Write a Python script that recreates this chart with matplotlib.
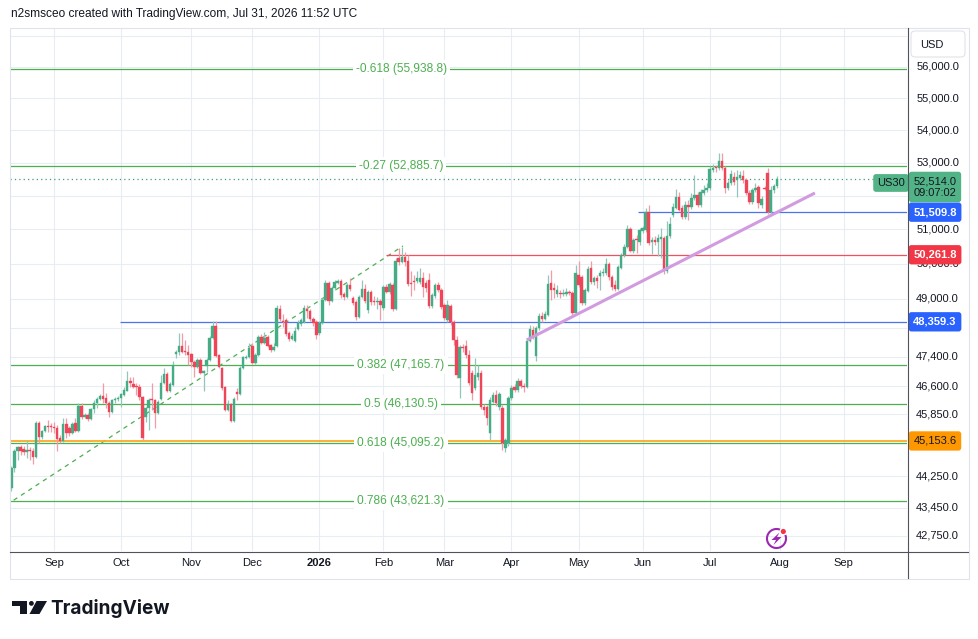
import numpy as np
import pandas as pd
import matplotlib
matplotlib.use("Agg")
import matplotlib.pyplot as plt
from matplotlib.transforms import blended_transform_factory, IdentityTransform
from matplotlib.patches import Rectangle, Circle, Polygon, FancyBboxPatch, Arc
from matplotlib.lines import Line2D

# ---------------- data ----------------
opens = [43950,44455,44895,45000,44945,44865,44920,44895,44740,45625,45255,45415,45545,45520,45515,45490,45230,45155,45595,45490,
         45360,45625,45415,46070,45780,45835,45730,45995,46150,46260,46340,46285,46150,45915,46230,46260,46285,46365,46470,46740,
         46660,46580,46575,46310,45780,46020,46230,46220,45885,46260,46685,46930,46470,46630,47470,47525,47690,47555,47525,47470,
         47255,47115,47310,46955,47145,47310,47910,48245,47445,47090,46580,45965,46125,45675,46445,46390,47090,47365,47390,47690,
         47225,47445,47940,47775,47940,47720,47580,47690,48715,48380,48410,48050,47885,47830,48160,48300,48355,48715,48660,48440,
         48355,48050,48325,48970,49450,48940,49310,49450,49510,49140,49055,49395,49025,48915,48495,49055,49280,48690,49195,48915,
         48905,48940,48745,49340,49195,49395,48715,50170,50055,50200,50080,49450,49510,49510,49480,49595,49450,49535,48800,49085,
         49395,49255,48830,48410,48800,48355,47855,46820,47665,47690,47445,46955,46550,46845,46955,46045,46045,45360,46180,46365,
         46045,46020,44970,45100,46285,46580,46500,46740,46605,46580,47830,48130,47420,48185,48520,48440,48550,49450,49310,49140,
         49140,49130,49140,49195,49170,48605,49680,49625,48885,49225,49880,49480,49595,49650,49735,49735,49995,49620,49395,49280,
         49880,50255,50485,51015,50370,50690,50630,50955,50985,51515,50630,50690,50630,50720,50750,49795,50810,51425,51635,51960,
         51635,51365,51720,51665,51930,52020,51720,52080,52170,52230,52775,52835,52830,53050,52835,52230,52380,52565,52475,52535,
         52595,52475,52080,51810,52170,52260,51720,52230,52685,51515,52170,52290]
highs = [44510,44945,45025,45050,45025,45180,45000,44970,45675,45675,45440,45570,45700,45625,45650,45570,45310,45755,45755,45545,
         45650,45755,46150,46150,45885,45885,46020,46230,46310,46390,46685,46420,46205,46260,46310,46340,46420,46580,47010,46845,
         46845,46685,46660,46340,46045,46285,46685,46260,46230,46900,47090,46980,46710,47280,47580,48050,48050,47855,47720,47500,
         47310,47365,47365,47035,47365,47965,48380,48380,47470,47115,46605,46230,46150,46310,46550,47145,47420,47445,47775,47775,
         47500,47995,48020,48075,47995,47745,47775,48830,48830,48575,48465,48105,48050,48215,48410,48465,48830,48830,48715,48495,
         48410,48380,49025,49535,49510,49365,49535,49565,49565,49195,49450,49595,49085,48970,49110,49535,49425,49255,49255,49085,
         49055,49000,49395,49425,49480,49450,50170,50460,50485,50345,50255,49795,49680,49795,49880,49765,49535,49735,49170,49450,
         49480,49310,48885,48970,48860,48410,47965,47720,47745,47855,47580,47035,47365,47170,47035,46125,46100,46310,46445,46500,
         46445,46100,45230,46340,46630,46660,46820,46790,46685,47910,48270,48245,48245,48605,48635,48660,49680,49825,49450,49395,
         49255,49280,49310,49255,49225,49965,50080,49680,49310,49940,50080,49650,49680,49825,49880,50170,50055,49680,49535,49965,
         50315,50575,51130,51075,50750,50835,51045,51100,51635,51720,50780,50810,50870,51045,50810,51250,51365,51780,52200,52110,
         51720,51840,51870,52080,52625,52110,52200,52320,52380,52900,52960,52930,53295,53295,52900,52475,52775,52715,52775,52745,
         52775,52535,52170,52230,52380,52320,51990,52290,52840,52290,52350,52595]
lows = [43870,44355,44660,44790,44790,44715,44660,44560,44715,45100,45205,45385,45385,45385,45360,44895,45100,45125,45230,45285,
        45335,45385,45385,45730,45755,45675,45700,45885,46020,46230,46150,46020,45780,45885,46150,46205,46045,46340,46470,46580,
        46550,46365,46230,45180,45650,45440,45965,45490,45860,46230,46660,46445,46445,46605,47365,47445,47500,47445,47170,47115,
        46845,47090,46930,46470,46980,47280,47885,47390,47090,46500,45940,45940,45650,45650,46230,46365,47065,47335,47365,47200,
        47200,47420,47745,47745,47665,47525,47555,47665,48380,48215,47965,47830,47855,47800,48130,48245,48325,48465,48380,48245,
        47885,47995,48300,48940,48830,48915,49255,49425,49025,48970,49025,49225,48830,48410,48465,49025,48885,48605,48830,48830,
        48715,48410,48690,49170,49140,48660,48690,49965,50025,49940,49365,49085,49255,49450,49425,49055,49195,48745,48745,49025,
        49195,48715,48410,48355,48270,47720,46820,46285,47525,47365,46630,46230,46500,46765,45995,45835,45570,45180,46150,46070,
        45965,44920,44865,45025,46230,46445,46445,46550,46445,46550,47800,47885,47280,48130,48355,48410,48520,48970,49025,49055,
        49025,49085,49085,49110,48495,48550,49340,48830,48830,49195,49425,49395,49310,49255,49650,49680,49535,49255,49225,49255,
        49850,50200,50460,50345,50315,50315,50545,50900,50925,50545,50285,50545,50225,50170,49710,49740,50750,51365,51605,51545,
        51310,51310,51280,51605,51870,51665,51665,52020,52110,52170,52715,52715,52775,52775,52080,52170,52320,52320,51960,52475,
        52380,52020,51755,51755,52110,51635,51635,52170,51455,51455,52080,52230]
closes = [44455,44895,45000,44895,44865,44920,44895,44740,45625,45255,45415,45545,45520,45515,45490,45205,45155,45595,45360,45360,
          45595,45415,46070,45780,45835,45730,45995,46150,46260,46340,46260,46150,45915,46230,46260,46285,46390,46500,46740,46685,
          46580,46575,46310,45230,46020,46230,46220,45885,46180,46685,46930,46470,46660,47170,47525,47690,47525,47525,47445,47255,
          47115,47310,46955,47010,47310,47910,48245,47420,47115,46550,45965,46125,45675,46260,46390,47090,47390,47390,47635,47225,
          47445,47940,47775,47910,47690,47580,47665,48745,48440,48355,48020,47885,47965,48105,48325,48410,48745,48660,48440,48325,
          47995,48325,48970,49450,48940,49310,49480,49510,49110,49055,49395,49280,48885,48495,49055,49280,48940,49195,48915,48905,
          48915,48830,49340,49195,49425,48715,50080,50055,50200,50055,49425,49425,49480,49595,49595,49340,49310,48800,49110,49395,
          49255,48775,48465,48830,48355,47855,46900,47665,47635,47445,46685,46420,46900,46955,46045,45965,45755,46230,46365,46150,
          46390,45100,45180,46285,46550,46500,46740,46605,46580,47830,48160,47940,48185,48520,48440,48577,49425,49255,49255,49255,
          49130,49170,49195,49170,48605,49735,49395,48885,49255,49850,49480,49595,49510,49735,49765,49995,49620,49340,49280,49910,
          50255,50485,51015,50370,50690,50680,50985,51045,51515,50605,50690,50630,50750,50780,49795,50810,51160,51665,51960,51575,
          51365,51720,51665,51930,52020,51720,52110,52170,52230,52805,52835,52830,53050,52835,52230,52380,52655,52410,52565,52625,
          52475,52080,51810,52170,52230,51780,51900,52200,51515,52170,52290,52514]

start_date, end_date = "2025-08-12", "2026-07-31"
holidays = ["2025-12-25", "2026-01-01"]

fib_labels = ["-0.618", "-0.27", "0.382", "0.5", "0.618", "0.786"]
fib_values = [55938.8, 52885.7, 47165.7, 46130.5, 45095.2, 43621.3]
fib_anchor_prices = [41744.0, 50517.0]

ray_prices = [51509.8, 50261.8, 48359.3, 45153.6]
last_price = 52514.0
countdown = "09:07:02"
symbol = "US30"
trend_prices = [47856.0, 52082.0]

grid_prices = [57000, 56000, 55000, 54000, 53000, 52000, 51000, 50000, 49000, 48200,
               47400, 46600, 45850, 45100, 44250, 43450, 42750]
label_prices = [56000, 55000, 54000, 53000, 51000, 50000, 49000,
                47400, 46600, 45850, 44250, 43450, 42750]

header = "n2smsceo created with TradingView.com, Jul 31, 2026 11:52 UTC"

# ---------------- dates / x positions ----------------
dates = pd.bdate_range(start_date, end_date)
dates = dates[~dates.isin(pd.to_datetime(holidays))]
n = len(closes)
dates = dates[:n]
fut = pd.bdate_range(pd.Timestamp(end_date) + pd.Timedelta(days=1), periods=60)
all_dates = dates.append(fut)
month_pos, month_lab = [], []
prev = None
for i, d in enumerate(all_dates):
    key = (d.year, d.month)
    if key != prev:
        if prev is not None:
            month_pos.append(i)
            month_lab.append(str(d.year) if d.month == 1 else d.strftime("%b"))
        prev = key
keep = [(p, l) for p, l in zip(month_pos, month_lab) if p < 290]
month_pos = [p for p, _ in keep]
month_lab = [l for _, l in keep]

# ---------------- figure ----------------
W, H = 979, 639
fig = plt.figure(figsize=(W / 100, H / 100), dpi=100)
fig.patch.set_facecolor("white")
PL, PR, PT, PB = 10, 907, 28, 551
ax = fig.add_axes([PL / W, 1 - PB / H, (PR - PL) / W, (PB - PT) / H])
ax.set_facecolor("white")
ax.set_yscale("log")
ax.set_xlim(-0.46, 293.7)
ax.set_ylim(42382, 57271)
for s in ax.spines.values():
    s.set_visible(False)
ax.set_xticks([])
ax.set_yticks([])
ax.yaxis.set_minor_locator(plt.NullLocator())
ax.yaxis.set_major_locator(plt.NullLocator())

FONT = "Liberation Sans"
TXT = "#131722"
GRID = "#e9edf3"
UP, DN = "#45ad86", "#ee4558"
UPW, DNW = "#93c6bb", "#f39ba7"
FIB = "#4caf50"

for p in grid_prices:
    ax.axhline(p, color=GRID, lw=0.8, zorder=0)
for p in month_pos:
    ax.axvline(p, color=GRID, lw=0.8, zorder=0)

# fib levels
for lab, v in zip(fib_labels, fib_values):
    ax.axhline(v, color=FIB, lw=0.9, zorder=2)
    ax.text(127.8, v, f"{lab} ({v:,.1f})", ha="center", va="center", fontsize=8.6,
            color=FIB, family=FONT, zorder=6,
            bbox=dict(boxstyle="square,pad=0.25", fc="white", ec="none"))
ax.plot([-38, 128.4], fib_anchor_prices, color=FIB, lw=0.9, ls=(0, (3.5, 3.5)), zorder=2)

# rays
ax.hlines(ray_prices[0], 205.5, 300, color="#4a74ee", lw=0.9, zorder=2)
ax.hlines(ray_prices[1], 123, 300, color="#f0505f", lw=0.9, zorder=2)
ax.hlines(ray_prices[2], 35.6, 300, color="#4a74ee", lw=0.9, zorder=2)
ax.hlines(ray_prices[3], -5, 300, color="#ffa726", lw=1.3, zorder=2)
ax.axhline(last_price, color="#3d9c7c", lw=0.9, ls=(0, (1, 2.5)), zorder=2)

# trend line
ax.plot([169, 263.5], trend_prices, color="#d29be0", lw=2.2, solid_capstyle="butt", zorder=5)

# candles
o = np.array(opens, float); h = np.array(highs, float)
l = np.array(lows, float); c = np.array(closes, float)
idx = np.arange(n)
up = c >= o
ax.vlines(idx[up], l[up], h[up], color=UPW, lw=0.9, zorder=3)
ax.vlines(idx[~up], l[~up], h[~up], color=DNW, lw=0.9, zorder=3)
bot = np.minimum(o, c)
top = np.maximum(np.maximum(o, c), bot * 1.0008)
ax.bar(idx[up], top[up] - bot[up], bottom=bot[up], width=0.8, color=UP,
       edgecolor=UP, lw=0.25, zorder=4)
ax.bar(idx[~up], top[~up] - bot[~up], bottom=bot[~up], width=0.8, color=DN,
       edgecolor=DN, lw=0.25, zorder=4)

# right price axis labels
by = blended_transform_factory(fig.transFigure, ax.transData)
for p in label_prices:
    ax.text(959 / W, p, f"{p:,.1f}", transform=by, ha="right", va="center",
            fontsize=8, color=TXT, family=FONT, zorder=7, clip_on=False)

def box(y, text, fc, tc, weight="normal", xc=935, pad=0.42):
    ax.text(xc / W, y, text, transform=by, ha="center", va="center", fontsize=8,
            color=tc, family=FONT, fontweight=weight, zorder=9, clip_on=False,
            linespacing=1.15,
            bbox=dict(boxstyle=f"round,pad={pad},rounding_size=0.25", fc=fc, ec="none"))

box(ray_prices[0], f"{ray_prices[0]:,.1f}", "#2962ff", "white", "bold")
box(ray_prices[1], f"{ray_prices[1]:,.1f}", "#f23645", "white", "bold")
box(ray_prices[2], f"{ray_prices[2]:,.1f}", "#2962ff", "white", "bold")
box(ray_prices[3], f"{ray_prices[3]:,.1f}", "#ff9800", TXT)
box(52262, f"{last_price:,.1f}\n{countdown}", "#52b486", TXT)
box(52383, symbol, "#52b486", TXT, xc=891, pad=0.35)

# time axis labels
bx = blended_transform_factory(ax.transData, fig.transFigure)
for p, lab in zip(month_pos, month_lab):
    ax.text(p, 1 - 563 / H, lab, transform=bx, ha="center", va="center", fontsize=8,
            color=TXT, family=FONT, fontweight="bold" if lab.isdigit() else "normal",
            clip_on=False)

# frame lines (pixel coordinates)
I = IdentityTransform()
def px(x, y):
    return x, H - y
fig.add_artist(Rectangle(px(10, 578.5), 958.5, 551, transform=I, fill=False,
                         ec="#e0e3eb", lw=0.8))
fig.add_artist(Line2D([907.5, 907.5], [H - 28, H - 578], transform=I, color="#50535e", lw=0.8))
fig.add_artist(Line2D([10, 968], [H - 551.5, H - 551.5], transform=I, color="#50535e", lw=0.8))

# USD box
fig.add_artist(FancyBboxPatch(px(911, 57), 54, 26, boxstyle="round,pad=0,rounding_size=4",
                              transform=I, fc="white", ec="#e0e3eb", lw=0.8))
fig.text(920 / W, 1 - 44.5 / H, "USD", ha="left", va="center", fontsize=8, color=TXT, family=FONT)

# header
fig.text(11 / W, 1 - 14 / H, header, ha="left", va="center", fontsize=8.6, color=TXT, family=FONT)

# lightning icon
PUR = "#9c27b0"
fig.add_artist(Arc(px(776.5, 538.5), 19, 19, theta1=68, theta2=382, transform=I, color=PUR, lw=1.5))
bolt = [px(779.5, 532.5), px(771.5, 540.0), px(776.0, 540.0), px(773.5, 545.0),
        px(781.5, 537.0), px(777.0, 537.0)]
fig.add_artist(Polygon(bolt, closed=True, transform=I, fc=PUR, ec="none"))
fig.add_artist(Circle(px(783.3, 531.5), 3.8, transform=I, fc="white", ec="none"))
fig.add_artist(Circle(px(783.3, 531.5), 2.6, transform=I, fc="#f23645", ec="none"))

# TradingView logo
K = "#131722"
fig.add_artist(Rectangle(px(12, 605.7), 14.7, 4.7, transform=I, fc=K, ec="none"))
fig.add_artist(Rectangle(px(20, 614), 6.7, 13, transform=I, fc=K, ec="none"))
fig.add_artist(Circle(px(31.4, 603.4), 2.4, transform=I, fc=K, ec="none"))
fig.add_artist(Polygon([px(36.5, 601), px(47, 601), px(39.5, 614), px(29.5, 614)],
                       closed=True, transform=I, fc=K, ec="none"))
fig.text(50 / W, 1 - 608 / H, "TradingView", ha="left", va="center", fontsize=13.7,
         fontweight="bold", color=K, family="Inter")

fig.savefig("out.png", dpi=100, facecolor="white")
